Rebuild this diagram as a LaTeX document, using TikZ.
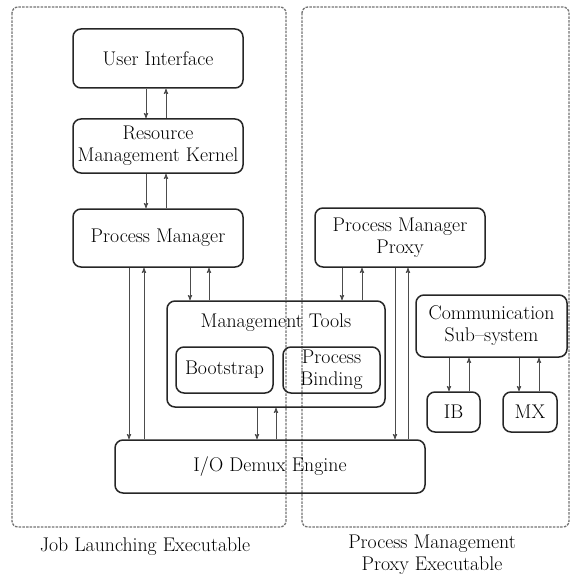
\documentclass[tikz,border=0pt]{standalone}
\usepackage{tikz}
\usetikzlibrary{positioning, arrows}
\tikzset {
    >=stealth',
    every node/.style={font=\fontsize{19.8}{22}\selectfont},
    blockbox/.style={draw=black!85, line width=1.5pt, rounded corners=8pt, align=center, inner sep=1pt},
    regionbox/.style={draw=black!55, line width=1.3pt, dash pattern=on 2.5pt off 1.2pt, rounded corners=6pt},
    flow/.style={->, draw=black!70, line width=0.9pt}
}
\begin{document}
\begin{tikzpicture}[x=1pt, y=-1pt]
                \useasboundingbox (0,0) rectangle (570,575);
                % the two executables
                \draw[regionbox] (12,7) rectangle (286,527);
                \draw[regionbox] (302,7) rectangle (569,527);
                \node (jle) at (145,547) {Job Launching Executable};
                \node[align=center] (pme) at (432,555) {Process Management\\Proxy Executable};

                \node[blockbox, minimum width=170, minimum height=59] (ui) at (158,58.5) {User Interface};
                \node[blockbox, minimum width=170, minimum height=54] (rmk) at (158,146) {Resource\\Management Kernel};
                \node[blockbox, minimum width=170, minimum height=58] (pm) at (158,238) {Process Manager};
                \node[blockbox, minimum width=218, minimum height=106] (mt) at (276,354) {};
                \node (mtt) at (276,323) {Management Tools};
                \node[blockbox, minimum width=97, minimum height=46] (bs) at (224.5,370) {Bootstrap};
                \node[blockbox, minimum width=97, minimum height=46] (pb) at (331.5,370) {Process\\Binding};
                \node[blockbox, minimum width=310, minimum height=53] (io) at (270,466.5) {I/O Demux Engine};
                \node[blockbox, minimum width=170, minimum height=59] (pmp) at (400,237.5) {Process Manager\\Proxy};
                \node[blockbox, minimum width=151, minimum height=62] (cs) at (491.5,326) {Communication\\Sub--system};
                \node[blockbox, minimum width=53, minimum height=40] (ib) at (453.5,412) {IB};
                \node[blockbox, minimum width=54, minimum height=40] (mx) at (530,412) {MX};

                % arrows, downwards then upwards
                \draw[flow] ([xshift=-12]ui.south) coordinate (a1) -- (a1 |- rmk.north);
                \draw[flow] ([xshift=8]rmk.north) coordinate (a2) -- (a2 |- ui.south);
                \draw[flow] ([xshift=-12]rmk.south) coordinate (a3) -- (a3 |- pm.north);
                \draw[flow] ([xshift=8]pm.north) coordinate (a4) -- (a4 |- rmk.south);
                \draw[flow] ([xshift=-29]pm.south) coordinate (a5) -- (a5 |- io.north);
                \draw[flow] ([xshift=-126]io.north) coordinate (a6) -- (a6 |- pm.south);
                \draw[flow] ([xshift=32]pm.south) coordinate (a7) -- (a7 |- mt.north);
                \draw[flow] ([xshift=-67]mt.north) coordinate (a8) -- (a8 |- pm.south);
                \draw[flow] ([xshift=-19]mt.south) coordinate (a9) -- (a9 |- io.north);
                \draw[flow] ([xshift=6]io.north) coordinate (a10) -- (a10 |- mt.south);
                \draw[flow] ([xshift=-58]pmp.south) coordinate (a11) -- (a11 |- mt.north);
                \draw[flow] ([xshift=86]mt.north) coordinate (a12) -- (a12 |- pmp.south);
                \draw[flow] ([xshift=-5]pmp.south) coordinate (a13) -- (a13 |- io.north);
                \draw[flow] ([xshift=138]io.north) coordinate (a14) -- (a14 |- pmp.south);
                \draw[flow] ([xshift=-42.5]cs.south) coordinate (a15) -- (a15 |- ib.north);
                \draw[flow] ([xshift=15.5]ib.north) coordinate (a16) -- (a16 |- cs.south);
                \draw[flow] ([xshift=27.5]cs.south) coordinate (a17) -- (a17 |- mx.north);
                \draw[flow] ([xshift=9]mx.north) coordinate (a18) -- (a18 |- cs.south);
            \end{tikzpicture}
\end{document}
